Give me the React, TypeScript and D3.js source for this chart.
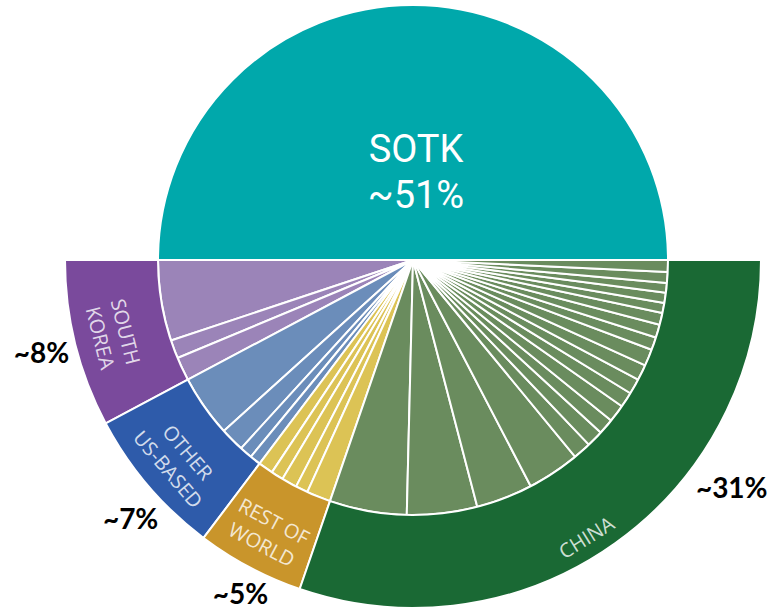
import React from "react";
import * as d3 from "d3";

// ---- data (relative shares; bottom half = non-SOTK) ----
const groupNames = ["South Korea", "Other US-based", "Rest of World", "China"];
const groupLabelLines = [["SOUTH", "KOREA"], ["OTHER", "US-BASED"], ["REST OF", "WORLD"], ["CHINA"]];
const groupPctLabels = ["~8%", "~7%", "~5%", "~31%"];
const southKoreaSlices = [18.4, 4.2, 5.4];
const otherUSSlices = [14.1, 5.5, 2.9, 2.5];
const restOfWorldSlices = [3.4, 2.8, 3.5, 2.8, 5.5];
const chinaSlices = [17.6, 16, 12.9, 12, 4.1, 3.8, 3.6, 4, 3.5, 3.5, 3.6, 3.8, 2.9, 3, 2.7, 2.3, 2.3, 2.2, 2.5, 2.7];
const sotkLabel = "SOTK";
const sotkPct = "~51%";

// ---- layout / style ----
const W = 776;
const H = 609;
const CX = 413;
const CY = 260;
const R_IN = 255;
const R_OUT = 348;
const outerColors = ["#7a4a9c", "#2e5baa", "#c9952b", "#1a6934"];
const innerColors = ["#9b84b8", "#6b8dba", "#dcc355", "#6a8c5e"];
const teal = "#00a8ab";
const labelAngleShift = [0, 0, 0, -3.5];
const pctAngles = [14, 42.5, 62.7, 144.4];
const pctRadii = [383, 383, 376, 392];

function polar(r: number, thetaDeg: number) {
  const t = (thetaDeg * Math.PI) / 180;
  return [CX - r * Math.cos(t), CY + r * Math.sin(t)];
}
function thetaOf(a: number) {
  return ((1.5 * Math.PI - a) * 180) / Math.PI;
}

export default function App() {
  const groupsData = [southKoreaSlices, otherUSSlices, restOfWorldSlices, chinaSlices];
  const totals = groupsData.map((a) => d3.sum(a));
  const pie = d3
    .pie<number>()
    .sort(null)
    .value((d) => d)
    .startAngle(1.5 * Math.PI)
    .endAngle(0.5 * Math.PI);
  const outerArcs = pie(totals);

  const flat = groupsData.flatMap((arr, gi) => arr.map((v) => ({ v, gi })));
  const innerPie = d3
    .pie<{ v: number; gi: number }>()
    .sort(null)
    .value((d) => d.v)
    .startAngle(1.5 * Math.PI)
    .endAngle(0.5 * Math.PI);
  const innerArcs = innerPie(flat);

  const arcInner = d3.arc<any>().innerRadius(0).outerRadius(R_IN);
  const arcOuter = d3.arc<any>().innerRadius(R_IN).outerRadius(R_OUT);
  const topPath = d3.arc<any>()({
    innerRadius: 0,
    outerRadius: R_IN,
    startAngle: -Math.PI / 2,
    endAngle: Math.PI / 2,
  }) as string;

  return (
    <svg
      width={W}
      height={H}
      style={{ position: "absolute", left: 0, top: 0, background: "#fff" }}
    >
      <g transform={`translate(${CX},${CY})`}>
        <path d={topPath} fill={teal} stroke="#fff" strokeWidth={2} />
        {innerArcs.map((a, i) => (
          <path
            key={"in" + i}
            d={arcInner(a) as string}
            fill={innerColors[a.data.gi]}
            stroke="#fff"
            strokeWidth={2}
            strokeLinejoin="round"
          />
        ))}
        {outerArcs.map((a, i) => (
          <path
            key={"out" + i}
            d={arcOuter(a) as string}
            fill={outerColors[i]}
            stroke="#fff"
            strokeWidth={2}
          />
        ))}
      </g>
      <text
        x={CX + 3}
        y={162}
        textAnchor="middle"
        fill="#fff"
        fontFamily="Roboto, sans-serif"
        fontSize={38}
      >
        {sotkLabel}
      </text>
      <text
        x={CX + 3}
        y={208}
        textAnchor="middle"
        fill="#fff"
        fontFamily="Roboto, sans-serif"
        fontSize={38}
      >
        {sotkPct}
      </text>
      {outerArcs.map((a, i) => {
        const mid = thetaOf((a.startAngle + a.endAngle) / 2) + labelAngleShift[i];
        const lines = groupLabelLines[i];
        const radii = lines.length === 2 ? [296, 322] : [327];
        return lines.map((ln, j) => {
          const [x, y] = polar(radii[j], mid);
          return (
            <text
              key={"gl" + i + "-" + j}
              x={0}
              y={0}
              transform={`translate(${x},${y}) rotate(${90 - mid})`}
              textAnchor="middle"
              dominantBaseline="central"
              fill="#ffffff"
              fillOpacity={0.8}
              fontFamily="'Open Sans', sans-serif"
              fontWeight={400}
              fontSize={20}
            >
              {ln}
            </text>
          );
        });
      })}
      {groupPctLabels.map((t, i) => {
        const [x, y] = polar(pctRadii[i], pctAngles[i]);
        return (
          <text
            key={"pct" + i}
            x={x}
            y={y}
            dy="0.36em"
            textAnchor="middle"
            fill="#000"
            fontFamily="Lato, sans-serif"
            fontWeight={700}
            fontSize={28}
          >
            {t}
          </text>
        );
      })}
    </svg>
  );
}
